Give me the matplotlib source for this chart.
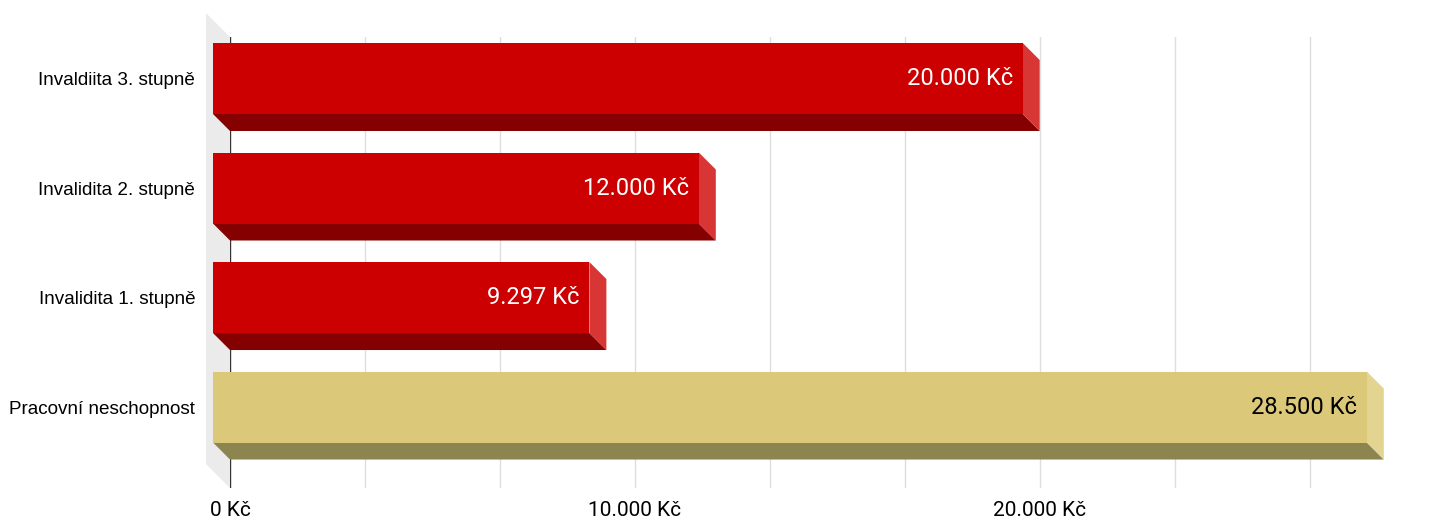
import matplotlib
matplotlib.use("Agg")
import matplotlib.pyplot as plt
from matplotlib.patches import Polygon, Rectangle

# data (top to bottom in the picture)
categories = ["Pracovní neschopnost", "Invalidita 1. stupně", "Invalidita 2. stupně", "Invaldiita 3. stupně"]
values = [28500, 9297, 12000, 20000]
bar_labels = ["28.500 Kč", "9.297 Kč", "12.000 Kč", "20.000 Kč"]
tick_values = [0, 10000, 20000]
tick_labels = ["0 Kč", "10.000 Kč", "20.000 Kč"]

# colours: front, bottom, side, label
red = ("#CC0000", "#850000", "#D83535", "white")
gold = ("#DBC879", "#8D8550", "#E3D491", "black")
styles = [gold, red, red, red]

W, H = 1437, 518
fig = plt.figure(figsize=(W / 100, H / 100), dpi=100)
ax_left, ax_right, ax_top, ax_bot = 230, 1400, 37, 488
ax = fig.add_axes([ax_left / W, 1 - ax_bot / H, (ax_right - ax_left) / W, (ax_bot - ax_top) / H])

xmax = 28900
ymin, ymax = -0.584, 3.534
ax.set_xlim(0, xmax)
ax.set_ylim(ymin, ymax)

# pixel -> data conversion for 3d depth
px_x = xmax / (ax_right - ax_left)
px_y = (ymax - ymin) / (ax_bot - ax_top)
depth = 17
dx, dy = depth * px_x, depth * px_y
wall = 24
wx, wy = wall * px_x, wall * px_y
bar_h = 71 * px_y

for s in ax.spines.values():
    s.set_visible(False)

# side wall
ax.add_patch(Polygon([(0, ymin), (0, ymax), (-wx, ymax + wy), (-wx, ymin + wy)],
                     closed=True, fc="#EBEBEB", ec="none", clip_on=False, zorder=0))

# grid every 10000/3
step = 10000 / 3
g = step
while g < xmax:
    ax.plot([g, g], [ymin, ymax], color="#DEDEDE", lw=1, zorder=1)
    g += step
ax.plot([0, 0], [ymin, ymax], color="#333333", lw=1, zorder=2)

# bars
for i, (v, st) in enumerate(zip(values, styles)):
    y0, y1 = i - bar_h / 2, i + bar_h / 2
    front, bottom, side, tc = st
    ax.add_patch(Polygon([(-dx, y0 + dy), (v - dx, y0 + dy), (v, y0), (0, y0)],
                         closed=True, fc=bottom, ec="none", clip_on=False, zorder=3))
    ax.add_patch(Polygon([(v - dx, y0 + dy), (v - dx, y1 + dy), (v, y1), (v, y0)],
                         closed=True, fc=side, ec="none", clip_on=False, zorder=3))
    ax.add_patch(Rectangle((-dx, y0 + dy), v, bar_h, fc=front, ec="none",
                           clip_on=False, zorder=4))
    ax.text(v - dx - 10 * px_x, i + dy, bar_labels[i], ha="right", va="center",
            color=tc, fontsize=17, family="Roboto", zorder=5)

ax.set_xticks(tick_values)
ax.set_xticklabels(tick_labels, family="Roboto", fontsize=15)
ax.set_yticks([i + dy for i in range(len(categories))])
ax.set_yticklabels(categories, family="Liberation Sans", fontsize=13.6)
ax.tick_params(axis="x", length=0, pad=9)
ax.tick_params(axis="y", length=0, pad=25)

fig.savefig("out.png", dpi=100)
